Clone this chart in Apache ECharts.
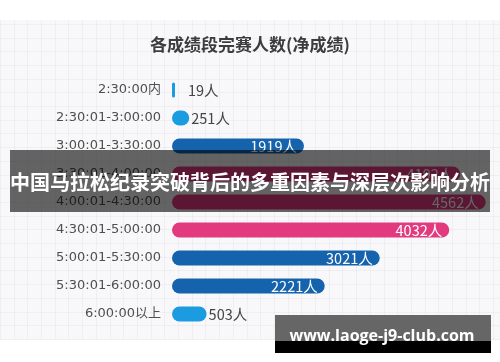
<!DOCTYPE html>
<html>
<head>
<meta charset="utf-8">
<script src="https://cdn.jsdelivr.net/npm/echarts@6/dist/echarts.min.js"></script>
<style>
html,body{margin:0;padding:0;background:#fff;}
#bg{position:absolute;left:0;top:20px;width:500px;height:320px;
background-color:#f8f8fa;
background-image:
 repeating-linear-gradient(90deg, rgba(0,0,0,0.035) 0px, rgba(0,0,0,0.035) 1px, transparent 1px, transparent 13.7px),
 repeating-linear-gradient(0deg, rgba(0,0,0,0.035) 0px, rgba(0,0,0,0.035) 1px, transparent 1px, transparent 13.7px);}
#chart{position:absolute;left:0;top:0;width:500px;height:362px;}
</style>
</head>
<body>
<div id="bg"></div>
<div id="chart"></div>
<script>
const chartTitle = '各成绩段完赛人数(净成绩)';
const categories = ['2:30:00内','2:30:01-3:00:00','3:00:01-3:30:00','3:30:01-4:00:00','4:00:01-4:30:00','4:30:01-5:00:00','5:00:01-5:30:00','5:30:01-6:00:00','6:00:00以上'];
const finishers = [19, 251, 1919, 4192, 4562, 4032, 3021, 2221, 503];
const bannerText = '中国马拉松纪录突破背后的多重因素与深层次影响分析';
const watermarkText = 'www.laoge-j9-club.com';

const barColors = ['#1b9be0','#1b9be0','#1562ad','#e2397f','#e2397f','#e2397f','#1562ad','#1562ad','#1b9be0'];
const insideLabel = [false,false,true,true,true,true,true,true,false];
const cjk = '"Noto Sans CJK SC","Noto Sans",sans-serif';

const chart = echarts.init(document.getElementById('chart'), null, {renderer:'canvas'});
chart.setOption({
  backgroundColor: 'transparent',
  animation: false,
  title: {
    text: chartTitle, left: 'center', top: 31,
    textStyle: {fontFamily: cjk, fontSize: 17, fontWeight: 'bold', color: '#3c3c3c'}
  },
  grid: {left: 172, right: 0, top: 76, bottom: 34, containLabel: false},
  xAxis: {type: 'value', min: 0, max: 4770, show: false},
  yAxis: {
    type: 'category', data: categories, inverse: true,
    axisLine: {show: false}, axisTick: {show: false},
    axisLabel: {margin: 11, fontSize: 13, color: '#4f4f4f', fontFamily: '"DejaVu Sans",' + cjk}
  },
  series: [{
    type: 'bar',
    barWidth: 15,
    barMinHeight: 3,
    data: finishers.map((v, i) => ({
      value: v,
      itemStyle: {color: barColors[i], borderRadius: 8},
      label: insideLabel[i]
        ? {show: true, position: 'insideRight', distance: 7, color: '#fff'}
        : {show: true, position: 'right', distance: i === 0 ? 13 : 2, color: '#444'}
    })),
    label: {formatter: '{c}人', fontSize: 14.5, fontFamily: cjk}
  }],
  graphic: [
    {type: 'rect', z: 100, shape: {x: 10, y: 150, width: 480, height: 62}, style: {fill: 'rgba(0,0,0,0.6)'}},
    {type: 'text', z: 101, x: 250, y: 182, style: {text: bannerText, fill: '#fff', font: 'bold 20px ' + cjk, textAlign: 'center', textVerticalAlign: 'middle'}},
    {type: 'rect', z: 100, shape: {x: 275, y: 315, width: 216, height: 26}, style: {fill: '#666666'}},
    {type: 'rect', z: 100, shape: {x: 275, y: 341, width: 216, height: 12}, style: {fill: '#000000'}},
    {type: 'text', z: 101, x: 382, y: 336, style: {text: watermarkText, fill: '#fff', font: 'bold 16px "Open Sans",sans-serif', textAlign: 'center', textVerticalAlign: 'middle'}}
  ]
});
</script>
</body>
</html>
